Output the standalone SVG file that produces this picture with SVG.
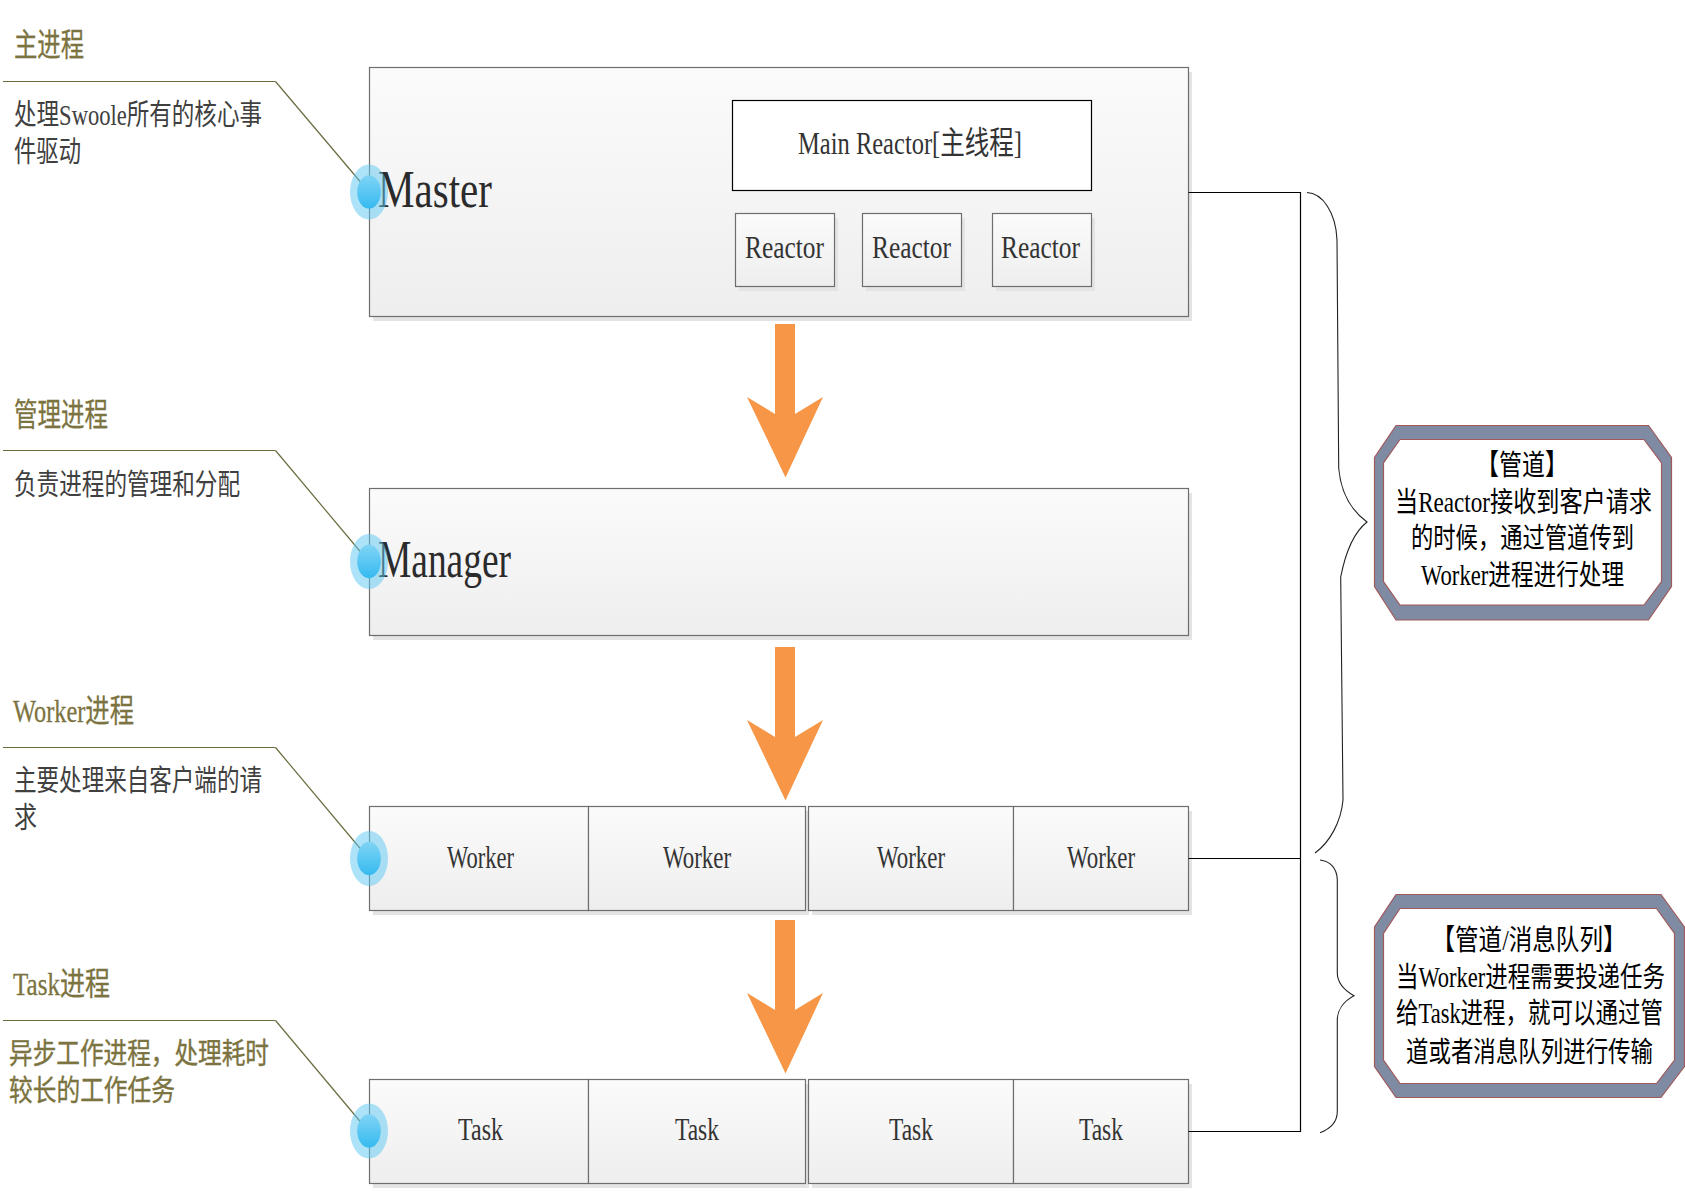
<svg xmlns="http://www.w3.org/2000/svg" width="1685" height="1191" viewBox="0 0 1685 1191">
<style>
text{font-family:"Liberation Serif","Noto Sans CJK SC",serif;fill:#2b2b2b}
.t{font-size:32px;fill:#7b7340;stroke:#7b7340;stroke-width:.3}
.d{font-size:29px;fill:#404040}
.o{font-size:29px;fill:#7b7340;stroke:#7b7340;stroke-width:.4}
.b{font-size:52px}
.l{font-size:32px;fill:#333}
.n{font-size:23px;fill:#000}
.box{fill:url(#g);stroke:#6e6e6e;stroke-width:1.2}
.sh{fill:#e4e4e4}
.ar{fill:#f79646}
.wire{fill:none;stroke:#000;stroke-width:1.2}
.brace{fill:none;stroke:#222;stroke-width:1.1}
.kink{fill:none;stroke:#6b6b3f;stroke-width:1.2}
.oct{fill:#7f8aa3;stroke:#a05a5a;stroke-width:1.2}
.inn{fill:#fff;stroke:#a05a5a;stroke-width:1.2}
.halo{fill:#5cc8f2;fill-opacity:.5}
.dot{fill:url(#c)}
</style>
<defs>
<linearGradient id="g" x1="0" y1="0" x2="0" y2="1"><stop offset="0" stop-color="#fbfbfb"/><stop offset="1" stop-color="#eeeeee"/></linearGradient>
<linearGradient id="c" x1="0" y1="0" x2="0" y2="1"><stop offset="0" stop-color="#80d4f5"/><stop offset="1" stop-color="#35baf0"/></linearGradient>
<path id="arrow" class="ar" d="M775 324H795V414L823 397L785.500 477.500L747 397L775 414Z"/>
</defs>

<g id="master">
<rect class="sh" x="373" y="72" width="819" height="249"/>
<rect class="box" x="369.5" y="67.5" width="819" height="249"/>
<text class="b" x="378" y="207" textLength="114" lengthAdjust="spacingAndGlyphs">Master</text>
</g>
<g id="main-reactor">
<rect x="732.500" y="100.500" width="359" height="90" fill="#fff" stroke="#000" stroke-width="1.200"/>
<text class="l" x="798" y="154" textLength="224" lengthAdjust="spacingAndGlyphs">Main Reactor[主线程]</text>
</g>
<g id="reactor-1">
<rect class="sh" x="739" y="218" width="99" height="73"/>
<rect class="box" x="735.500" y="213.500" width="99" height="73"/>
<text class="l" x="745" y="257.500" textLength="79" lengthAdjust="spacingAndGlyphs">Reactor</text>
</g>
<g id="reactor-2">
<rect class="sh" x="866" y="218" width="99" height="73"/>
<rect class="box" x="862.500" y="213.500" width="99" height="73"/>
<text class="l" x="872" y="257.500" textLength="79" lengthAdjust="spacingAndGlyphs">Reactor</text>
</g>
<g id="reactor-3">
<rect class="sh" x="996" y="218" width="99" height="73"/>
<rect class="box" x="992.500" y="213.500" width="99" height="73"/>
<text class="l" x="1001" y="257.500" textLength="79" lengthAdjust="spacingAndGlyphs">Reactor</text>
</g>

<g id="manager">
<rect class="sh" x="373" y="493" width="819" height="147"/>
<rect class="box" x="369.5" y="488.500" width="819" height="147"/>
<text class="b" x="378" y="577" textLength="133" lengthAdjust="spacingAndGlyphs">Manager</text>
</g>

<g id="worker-1">
<rect class="sh" x="373" y="811" width="219" height="104"/>
<rect class="box" x="369.5" y="806.500" width="219" height="104"/>
<text class="l" x="447" y="868" textLength="67" lengthAdjust="spacingAndGlyphs">Worker</text>
</g>
<g id="worker-2">
<rect class="sh" x="592" y="811" width="217" height="104"/>
<rect class="box" x="588.500" y="806.500" width="217" height="104"/>
<text class="l" x="663" y="868" textLength="68" lengthAdjust="spacingAndGlyphs">Worker</text>
</g>
<g id="worker-3">
<rect class="sh" x="812" y="811" width="205" height="104"/>
<rect class="box" x="808.500" y="806.500" width="205" height="104"/>
<text class="l" x="877" y="868" textLength="68" lengthAdjust="spacingAndGlyphs">Worker</text>
</g>
<g id="worker-4">
<rect class="sh" x="1017" y="811" width="175" height="104"/>
<rect class="box" x="1013.500" y="806.500" width="175" height="104"/>
<text class="l" x="1067" y="868" textLength="68" lengthAdjust="spacingAndGlyphs">Worker</text>
</g>

<g id="task-1">
<rect class="sh" x="373" y="1084" width="219" height="104"/>
<rect class="box" x="369.5" y="1079.500" width="219" height="104"/>
<text class="l" x="458" y="1139.500" textLength="45" lengthAdjust="spacingAndGlyphs">Task</text>
</g>
<g id="task-2">
<rect class="sh" x="592" y="1084" width="217" height="104"/>
<rect class="box" x="588.500" y="1079.500" width="217" height="104"/>
<text class="l" x="675" y="1139.500" textLength="44" lengthAdjust="spacingAndGlyphs">Task</text>
</g>
<g id="task-3">
<rect class="sh" x="812" y="1084" width="205" height="104"/>
<rect class="box" x="808.500" y="1079.500" width="205" height="104"/>
<text class="l" x="889" y="1139.500" textLength="44" lengthAdjust="spacingAndGlyphs">Task</text>
</g>
<g id="task-4">
<rect class="sh" x="1017" y="1084" width="175" height="104"/>
<rect class="box" x="1013.500" y="1079.500" width="175" height="104"/>
<text class="l" x="1079" y="1139.500" textLength="44" lengthAdjust="spacingAndGlyphs">Task</text>
</g>

<g id="connectors">
<use href="#arrow"/>
<use href="#arrow" y="323"/>
<use href="#arrow" y="596"/>
<path class="wire" d="M1188.500 192.500H1300.500V1131.500H1188.500"/>
<path class="wire" d="M1188.500 858.500H1300.500"/>
<path class="brace" d="M1307 192.500C1322 193 1336 212 1337 240L1338.700 468C1341 495 1352 511 1367 522C1353 533 1345 555 1340.700 577L1343 800C1341 822 1330 842 1315 853"/>
<path class="brace" d="M1320 860C1330 861 1337 868 1337.300 880V972C1337 982 1344 990 1354 995.700C1344 1001 1337 1010 1337.300 1021V1112C1337 1122 1330 1129 1320 1132.700"/>
<path class="kink" d="M3 81.500H275.500"/>
<path class="kink" d="M3 450.500H275.500"/>
<path class="kink" d="M3 747.500H275.500"/>
<path class="kink" d="M3 1020.500H275.500"/>
<path class="kink" stroke-width=".8" d="M275.500 81.500L369 192"/>
<path class="kink" stroke-width=".8" d="M275.500 450.500L369 562"/>
<path class="kink" stroke-width=".8" d="M275.500 747.500L369 859"/>
<path class="kink" stroke-width=".8" d="M275.500 1020.500L369 1132"/>
</g>

<g id="marker-master"><ellipse class="halo" cx="369" cy="192" rx="19" ry="27.500"/><ellipse class="dot" cx="369" cy="192" rx="11.800" ry="16.700"/></g>
<g id="marker-manager"><ellipse class="halo" cx="369" cy="561.500" rx="19" ry="27.500"/><ellipse class="dot" cx="369" cy="561.500" rx="11.800" ry="16.700"/></g>
<g id="marker-worker"><ellipse class="halo" cx="369" cy="858.500" rx="19" ry="27.500"/><ellipse class="dot" cx="369" cy="858.500" rx="11.800" ry="16.700"/></g>
<g id="marker-task"><ellipse class="halo" cx="369" cy="1131" rx="19" ry="27.500"/><ellipse class="dot" cx="369" cy="1131" rx="11.800" ry="16.700"/></g>

<g id="note-master">
<text class="t" x="14" y="56" textLength="70" lengthAdjust="spacingAndGlyphs">主进程</text>
<text class="d" x="14" y="125" textLength="248" lengthAdjust="spacingAndGlyphs">处理Swoole所有的核心事</text>
<text class="d" x="14" y="162" textLength="67" lengthAdjust="spacingAndGlyphs">件驱动</text>
</g>
<g id="note-manager">
<text class="t" x="14" y="425.500" textLength="94" lengthAdjust="spacingAndGlyphs">管理进程</text>
<text class="d" x="14" y="494.500" textLength="226" lengthAdjust="spacingAndGlyphs">负责进程的管理和分配</text>
</g>
<g id="note-worker">
<text class="t" x="13" y="722" textLength="121" lengthAdjust="spacingAndGlyphs">Worker进程</text>
<text class="d" x="14" y="791" textLength="248" lengthAdjust="spacingAndGlyphs">主要处理来自客户端的请</text>
<text class="d" x="14" y="828" textLength="23" lengthAdjust="spacingAndGlyphs">求</text>
</g>
<g id="note-task">
<text class="t" x="13" y="995" textLength="97" lengthAdjust="spacingAndGlyphs">Task进程</text>
<text class="o" x="9" y="1064" textLength="260" lengthAdjust="spacingAndGlyphs">异步工作进程，处理耗时</text>
<text class="o" x="9" y="1100.500" textLength="166" lengthAdjust="spacingAndGlyphs">较长的工作任务</text>
</g>

<g id="pipe-note">
<polygon class="oct" points="1396,425.500 1648.500,425.500 1671.500,457.500 1671.500,586.500 1648.500,620 1396,620 1374.500,586.500 1374.500,457.500"/>
<polygon class="inn" points="1400,439.500 1644,439.500 1661.500,463 1661.500,581.500 1644,605 1400,605 1383.500,581.500 1383.500,463"/>
<text class="n" transform="translate(1476 475) scale(1 1.26)" textLength="92" lengthAdjust="spacingAndGlyphs">【管道】</text>
<text class="n" transform="translate(1395 512) scale(1 1.26)" textLength="257" lengthAdjust="spacingAndGlyphs">当Reactor接收到客户请求</text>
<text class="n" transform="translate(1411 547.500) scale(1 1.26)" textLength="223" lengthAdjust="spacingAndGlyphs">的时候，通过管道传到</text>
<text class="n" transform="translate(1421 584.500) scale(1 1.26)" textLength="203" lengthAdjust="spacingAndGlyphs">Worker进程进行处理</text>
</g>
<g id="queue-note">
<polygon class="oct" points="1396,894.500 1661,894.500 1684.500,927 1684.500,1066.500 1661,1097.500 1396,1097.500 1374.500,1066.500 1374.500,927"/>
<polygon class="inn" points="1400,908.500 1656.500,908.500 1674.500,933.500 1674.500,1060 1656.500,1083.500 1400,1083.500 1383.500,1060 1383.500,933.500"/>
<text class="n" transform="translate(1431.500 950) scale(1 1.26)" textLength="195" lengthAdjust="spacingAndGlyphs">【管道/消息队列】</text>
<text class="n" transform="translate(1396 986.500) scale(1 1.26)" textLength="269" lengthAdjust="spacingAndGlyphs">当Worker进程需要投递任务</text>
<text class="n" transform="translate(1396 1022.500) scale(1 1.26)" textLength="267" lengthAdjust="spacingAndGlyphs">给Task进程，就可以通过管</text>
<text class="n" transform="translate(1406 1062) scale(1 1.26)" textLength="247" lengthAdjust="spacingAndGlyphs">道或者消息队列进行传输</text>
</g>
</svg>
